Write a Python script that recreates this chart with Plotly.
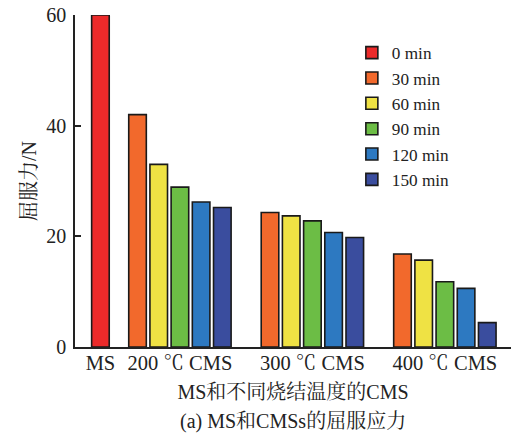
import plotly.graph_objects as go

# ---- data ----
categories = ["MS", "200 ℃ CMS", "300 ℃ CMS", "400 ℃ CMS"]
series_names = ["0 min", "30 min", "60 min", "90 min", "120 min", "150 min"]
ms_value = [60.0]                       # 0 min, MS only
v30 = [42.0, 24.3, 16.8]                # 200, 300, 400 ℃ CMS
v60 = [33.0, 23.7, 15.7]
v90 = [28.9, 22.8, 11.8]
v120 = [26.2, 20.7, 10.6]
v150 = [25.2, 19.8, 4.4]
y_ticks = [0, 20, 40, 60]

colors = ["#EC2A2A", "#F2692C", "#EFE244", "#6CBD45", "#2D79C1", "#3A4D9E"]

# ---- layout of bar slots (computed) ----
gap_ms = 1.75      # slot distance MS -> first CMS bar
gap_grp = 2.25     # slot distance between CMS groups
cms_series = [v30, v60, v90, v120, v150]
n_cms = len(cms_series)
group_start = [0.0]
start = gap_ms
for g in range(len(categories) - 1):
    group_start.append(start)
    start += (n_cms - 1) + gap_grp

group_center = [group_start[0]] + [s + (n_cms - 1) / 2 for s in group_start[1:]]

font_fam = "Liberation Serif, Noto Serif CJK SC, Noto Sans CJK SC, serif"

fig = go.Figure()
fig.add_trace(go.Bar(
    x=[group_start[0]], y=ms_value, name=series_names[0],
    marker=dict(color=colors[0], line=dict(color="#1a1a1a", width=1.6)),
    width=0.83,
))
for i, vals in enumerate(cms_series):
    xs = [group_start[g + 1] + i for g in range(len(vals))]
    fig.add_trace(go.Bar(
        x=xs, y=vals, name=series_names[i + 1],
        marker=dict(color=colors[i + 1], line=dict(color="#1a1a1a", width=1.6)),
        width=0.83,
    ))

fig.update_layout(
    width=514, height=435,
    margin=dict(l=75, r=3, t=15, b=88),
    paper_bgcolor="white", plot_bgcolor="white",
    font=dict(family=font_fam, size=20, color="#222"),
    barmode="overlay",
    showlegend=True,
    legend=dict(
        x=0.635, xanchor="left", y=0.94, yanchor="top",
        font=dict(size=17.2, family=font_fam, color="#222"),
        bgcolor="rgba(0,0,0,0)", traceorder="normal",
    ),
    xaxis=dict(
        range=[-1.2, group_start[-1] + n_cms - 1 + 1.12],
        tickvals=group_center, ticktext=categories,
        showline=True, linecolor="#222", linewidth=2,
        ticks="", showgrid=False, zeroline=False,
        tickfont=dict(size=20.5),
        ticklabelstandoff=-4,
        title=dict(text="MS和不同烧结温度的CMS", font=dict(size=20), standoff=12),
    ),
    yaxis=dict(
        range=[0, 60], tickvals=y_ticks,
        showline=True, linecolor="#222", linewidth=1.5,
        ticks="inside", ticklen=6, tickwidth=1.5, tickcolor="#222",
        ticklabelstandoff=3,
        showgrid=False, zeroline=False,
        tickfont=dict(size=20),
        title=dict(text="屈服力/N", font=dict(size=20), standoff=4),
    ),
    annotations=[dict(
        text="(a) MS和CMSs的屈服应力", xref="paper", yref="paper",
        x=0.5, y=-0.225, xanchor="center", yanchor="middle",
        showarrow=False, font=dict(size=20, family=font_fam, color="#222"),
    )],
)

fig.write_html("out.html", config={"displayModeBar": False},
               post_script="document.body.style.margin='0';")
